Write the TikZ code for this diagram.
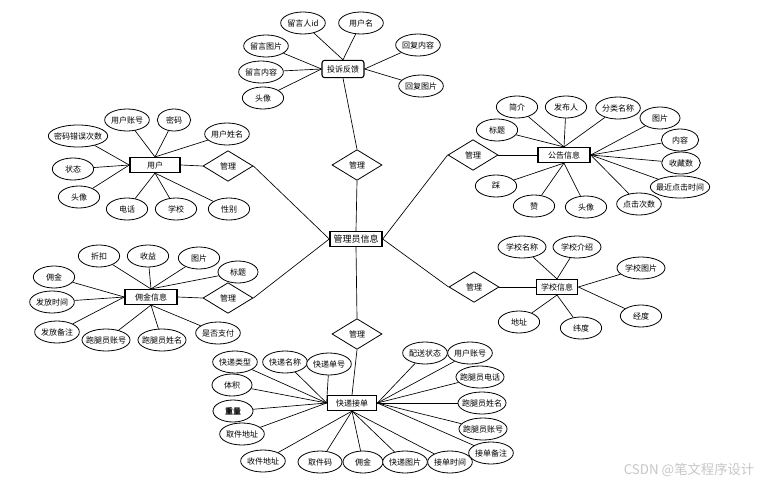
\documentclass[tikz,border=0pt]{standalone}
\usepackage{fontspec}
\newfontfamily\cjk{Noto Sans CJK SC}
\usepackage{tikz}
\usetikzlibrary{shapes,positioning}
\tikzstyle{entity}=[rectangle, draw=black, line width=1.1pt, fill=white, font=\cjk\fontsize{6}{7}\selectfont,
        text centered, minimum height=11pt, inner sep=1pt]
\tikzstyle{attr}=[ellipse, draw=black, line width=0.6pt, fill=white, font=\cjk\fontsize{6}{7}\selectfont,
        minimum width=33.5pt, minimum height=16.5pt, inner xsep=-2.25pt, inner ysep=0pt]
\tikzstyle{rel}=[diamond, draw=black, line width=0.6pt, fill=white, font=\cjk\fontsize{6}{7}\selectfont,
        minimum width=37.5pt, minimum height=23pt, inner sep=0pt]
\tikzstyle{link}=[draw=black, line width=0.5pt]

\begin{document}
\begin{tikzpicture}[x=0.75pt, y=-0.75pt]
	\useasboundingbox (0,0) rectangle (766,485);

	% centre
	\node (Admin) [entity, minimum width=39pt, font=\cjk\fontsize{6.75}{7}\selectfont] at (356,239) {管理员信息};

	% feedback
	\node (RelFb) [rel] at (357,165) {管理};
	\node (Fb) [entity, rounded corners=2pt, line width=0.8pt, minimum width=31.5pt, minimum height=13pt] at (343,69) {投诉反馈};
	\node (FbUid) [attr] at (303,23) {留言人id};
	\node (FbName) [attr] at (361,23) {用户名};
	\node (FbPic) [attr] at (266,46) {留言图片};
	\node (FbText) [attr] at (261,72) {留言内容};
	\node (FbAvatar) [attr, minimum width=31pt] at (263,98) {头像};
	\node (FbReply) [attr] at (418,45) {回复内容};
	\node (FbReplyPic) [attr] at (421,86) {回复图片};

	% user
	\node (RelUser) [rel] at (228,166) {管理};
	\node (User) [entity, minimum width=37.5pt] at (155,165) {用户};
	\node (UserAcct) [attr] at (127,120) {用户账号};
	\node (UserPwd) [attr, minimum width=25pt] at (174,120) {密码};
	\node (UserName) [attr] at (227,134) {用户姓名};
	\node (UserErr) [attr] at (78,136) {密码错误次数};
	\node (UserState) [attr, minimum width=31pt] at (73,169) {状态};
	\node (UserAvatar) [attr, minimum width=31pt] at (79,197) {头像};
	\node (UserTel) [attr, minimum width=31pt] at (127,209) {电话};
	\node (UserSchool) [attr, minimum width=31pt] at (176,209) {学校};
	\node (UserSex) [attr, minimum width=31pt] at (229,209) {性别};

	% notice
	\node (RelNotice) [rel] at (473,155) {管理};
	\node (Notice) [entity, minimum width=39pt] at (564,155) {公告信息};
	\node (NIntro) [attr, minimum width=31pt] at (517,107) {简介};
	\node (NAuthor) [attr, minimum width=31pt] at (566,107) {发布人};
	\node (NCat) [attr] at (618,108) {分类名称};
	\node (NPic) [attr, minimum width=30pt] at (660,118) {图片};
	\node (NTitle) [attr, minimum width=31pt] at (497,130) {标题};
	\node (NContent) [attr, minimum width=28pt] at (680,140) {内容};
	\node (NFav) [attr, minimum width=29pt] at (681,163) {收藏数};
	\node (NLast) [attr] at (680,187) {最近点击时间};
	\node (NClicks) [attr] at (639,204) {点击次数};
	\node (NAvatar) [attr, minimum width=31pt] at (586,207) {头像};
	\node (NLike) [attr, minimum width=31pt] at (534,206) {赞};
	\node (NDislike) [attr, minimum width=31pt] at (496,186) {踩};

	% commission
	\node (RelComm) [rel] at (228,298) {管理};
	\node (Comm) [entity, minimum width=39pt] at (151,297) {佣金信息};
	\node (CDisc) [attr, minimum width=31pt] at (99,256) {折扣};
	\node (CProfit) [attr, minimum width=31pt] at (148,256) {收益};
	\node (CPic) [attr, minimum width=31pt] at (199,258) {图片};
	\node (CTitle) [attr, minimum width=30pt] at (238,272) {标题};
	\node (CAmount) [attr, minimum width=31pt] at (54,277) {佣金};
	\node (CTime) [attr] at (52,302) {发放时间};
	\node (CNote) [attr] at (57,332) {发放备注};
	\node (CRunAcct) [attr] at (106,340) {跑腿员账号};
	\node (CRunName) [attr] at (162,340) {跑腿员姓名};
	\node (CPaid) [attr] at (218,333) {是否支付};

	% school
	\node (RelSchool) [rel] at (474,287) {管理};
	\node (School) [entity, minimum width=31pt] at (557,287) {学校信息};
	\node (SName) [attr, minimum width=36pt] at (522,247) {学校名称};
	\node (SIntro) [attr, minimum width=36pt] at (577,247) {学校介绍};
	\node (SPic) [attr, minimum width=36pt] at (641,268) {学校图片};
	\node (SAddr) [attr, minimum width=31pt] at (519,322) {地址};
	\node (SLat) [attr, minimum width=31pt] at (581,328) {纬度};
	\node (SLng) [attr, minimum width=31pt] at (641,316) {经度};

	% order
	\node (RelOrder) [rel] at (357,334) {管理};
	\node (Order) [entity, minimum width=37pt] at (352,403) {快递接单};
	\node (OType) [attr] at (235,362) {快递类型};
	\node (OName) [attr] at (285,362) {快递名称};
	\node (ONo) [attr] at (329,364) {快递单号};
	\node (OVol) [attr, minimum width=30pt] at (232,385) {体积};
	\node (OWeight) [attr, minimum width=30pt, font=\cjk\fontsize{6}{7}\selectfont\bfseries] at (233,411) {重量};
	\node (OPick) [attr] at (242,434) {取件地址};
	\node (ODest) [attr] at (263,461) {收件地址};
	\node (OCode) [attr, minimum width=33pt] at (320,462) {取件码};
	\node (OFee) [attr, minimum width=30pt] at (363,462) {佣金};
	\node (OPic) [attr] at (405,462) {快递图片};
	\node (OTime) [attr] at (450,462) {接单时间};
	\node (ONote) [attr] at (491,453) {接单备注};
	\node (ORunAcct) [attr] at (483,429) {跑腿员账号};
	\node (ORunName) [attr] at (482,403) {跑腿员姓名};
	\node (ORunTel) [attr] at (480,377) {跑腿员电话};
	\node (OState) [attr] at (425,353) {配送状态};
	\node (OUser) [attr] at (470,353) {用户账号};

	\node (Mark) [font=\cjk\fontsize{10}{12}\selectfont, text=gray!45] at (689,470) {CSDN @笔文程序设计};


\draw[link] (RelFb.south) -- (Admin.north);
\draw[link] (RelUser.east) -- (Admin.west);
\draw[link] (RelComm.east) -- (Admin.west);
\draw[link] (RelNotice.west) -- (Admin.east);
\draw[link] (RelSchool.west) -- (Admin.east);
\draw[link] (RelOrder.north) -- (Admin.south);

\draw[link] (Fb.south) -- (RelFb.north);
\draw[link] (FbUid) -- (Fb.north);
\draw[link] (FbName) -- (Fb.north);
\draw[link] (FbPic) -- (Fb.west);
\draw[link] (FbText) -- (Fb.west);
\draw[link] (FbAvatar) -- (Fb.west);
\draw[link] (FbReply) -- (Fb.east);
\draw[link] (FbReplyPic) -- (Fb.east);

\draw[link] (User.east) -- (RelUser.west);
\draw[link] (UserAcct) -- (User.north);
\draw[link] (UserPwd) -- (User.north);
\draw[link] (UserName) -- (User.north);
\draw[link] (UserErr) -- (User.west);
\draw[link] (UserState) -- (User.west);
\draw[link] (UserAvatar) -- (User.west);
\draw[link] (UserTel) -- (User.south);
\draw[link] (UserSchool) -- (User.south);
\draw[link] (UserSex) -- (User.south);

\draw[link] (Notice.west) -- (RelNotice.east);
\draw[link] (NIntro) -- (Notice.north);
\draw[link] (NAuthor) -- (Notice.north);
\draw[link] (NCat) -- (Notice.north);
\draw[link] (NTitle) -- (Notice.north);
\draw[link] (NPic) -- (Notice.east);
\draw[link] (NContent) -- (Notice.east);
\draw[link] (NFav) -- (Notice.east);
\draw[link] (NLast) -- (Notice.east);
\draw[link] (NClicks) -- (Notice.east);
\draw[link] (NAvatar) -- (Notice.south);
\draw[link] (NLike) -- (Notice.south);
\draw[link] (NDislike) -- (Notice.south);

\draw[link] (Comm.east) -- (RelComm.west);
\draw[link] (CDisc) -- (Comm.north);
\draw[link] (CProfit) -- (Comm.north);
\draw[link] (CPic) -- (Comm.north);
\draw[link] (CTitle) -- (Comm.north);
\draw[link] (CAmount) -- (Comm.west);
\draw[link] (CTime) -- (Comm.west);
\draw[link] (CNote) -- (Comm.west);
\draw[link] (CRunAcct) -- (Comm.south);
\draw[link] (CRunName) -- (Comm.south);
\draw[link] (CPaid) -- (Comm.south);

\draw[link] (School.west) -- (RelSchool.east);
\draw[link] (SName) -- (School.north);
\draw[link] (SIntro) -- (School.north);
\draw[link] (SPic) -- (School.east);
\draw[link] (SLng) -- (School.east);
\draw[link] (SAddr) -- (School.south);
\draw[link] (SLat) -- (School.south);

\draw[link] (RelOrder.south) -- (Order.north);
\draw[link] (OType) -- (Order.west);
\draw[link] (OName) -- (Order.west);
\draw[link] (ONo) -- (Order.west);
\draw[link] (OVol) -- (Order.west);
\draw[link] (OWeight) -- (Order.west);
\draw[link] (OPick) -- (Order.west);
\draw[link] (ODest) -- (Order.south);
\draw[link] (OCode) -- (Order.south);
\draw[link] (OFee) -- (Order.south);
\draw[link] (OPic) -- (Order.south);
\draw[link] (OTime) -- (Order.south);
\draw[link] (ONote) -- (Order.east);
\draw[link] (ORunAcct) -- (Order.east);
\draw[link] (ORunName) -- (Order.east);
\draw[link] (ORunTel) -- (Order.east);
\draw[link] (OUser) -- (Order.east);
\draw[link] (OState) -- (Order.east);

\end{tikzpicture}
\end{document}
